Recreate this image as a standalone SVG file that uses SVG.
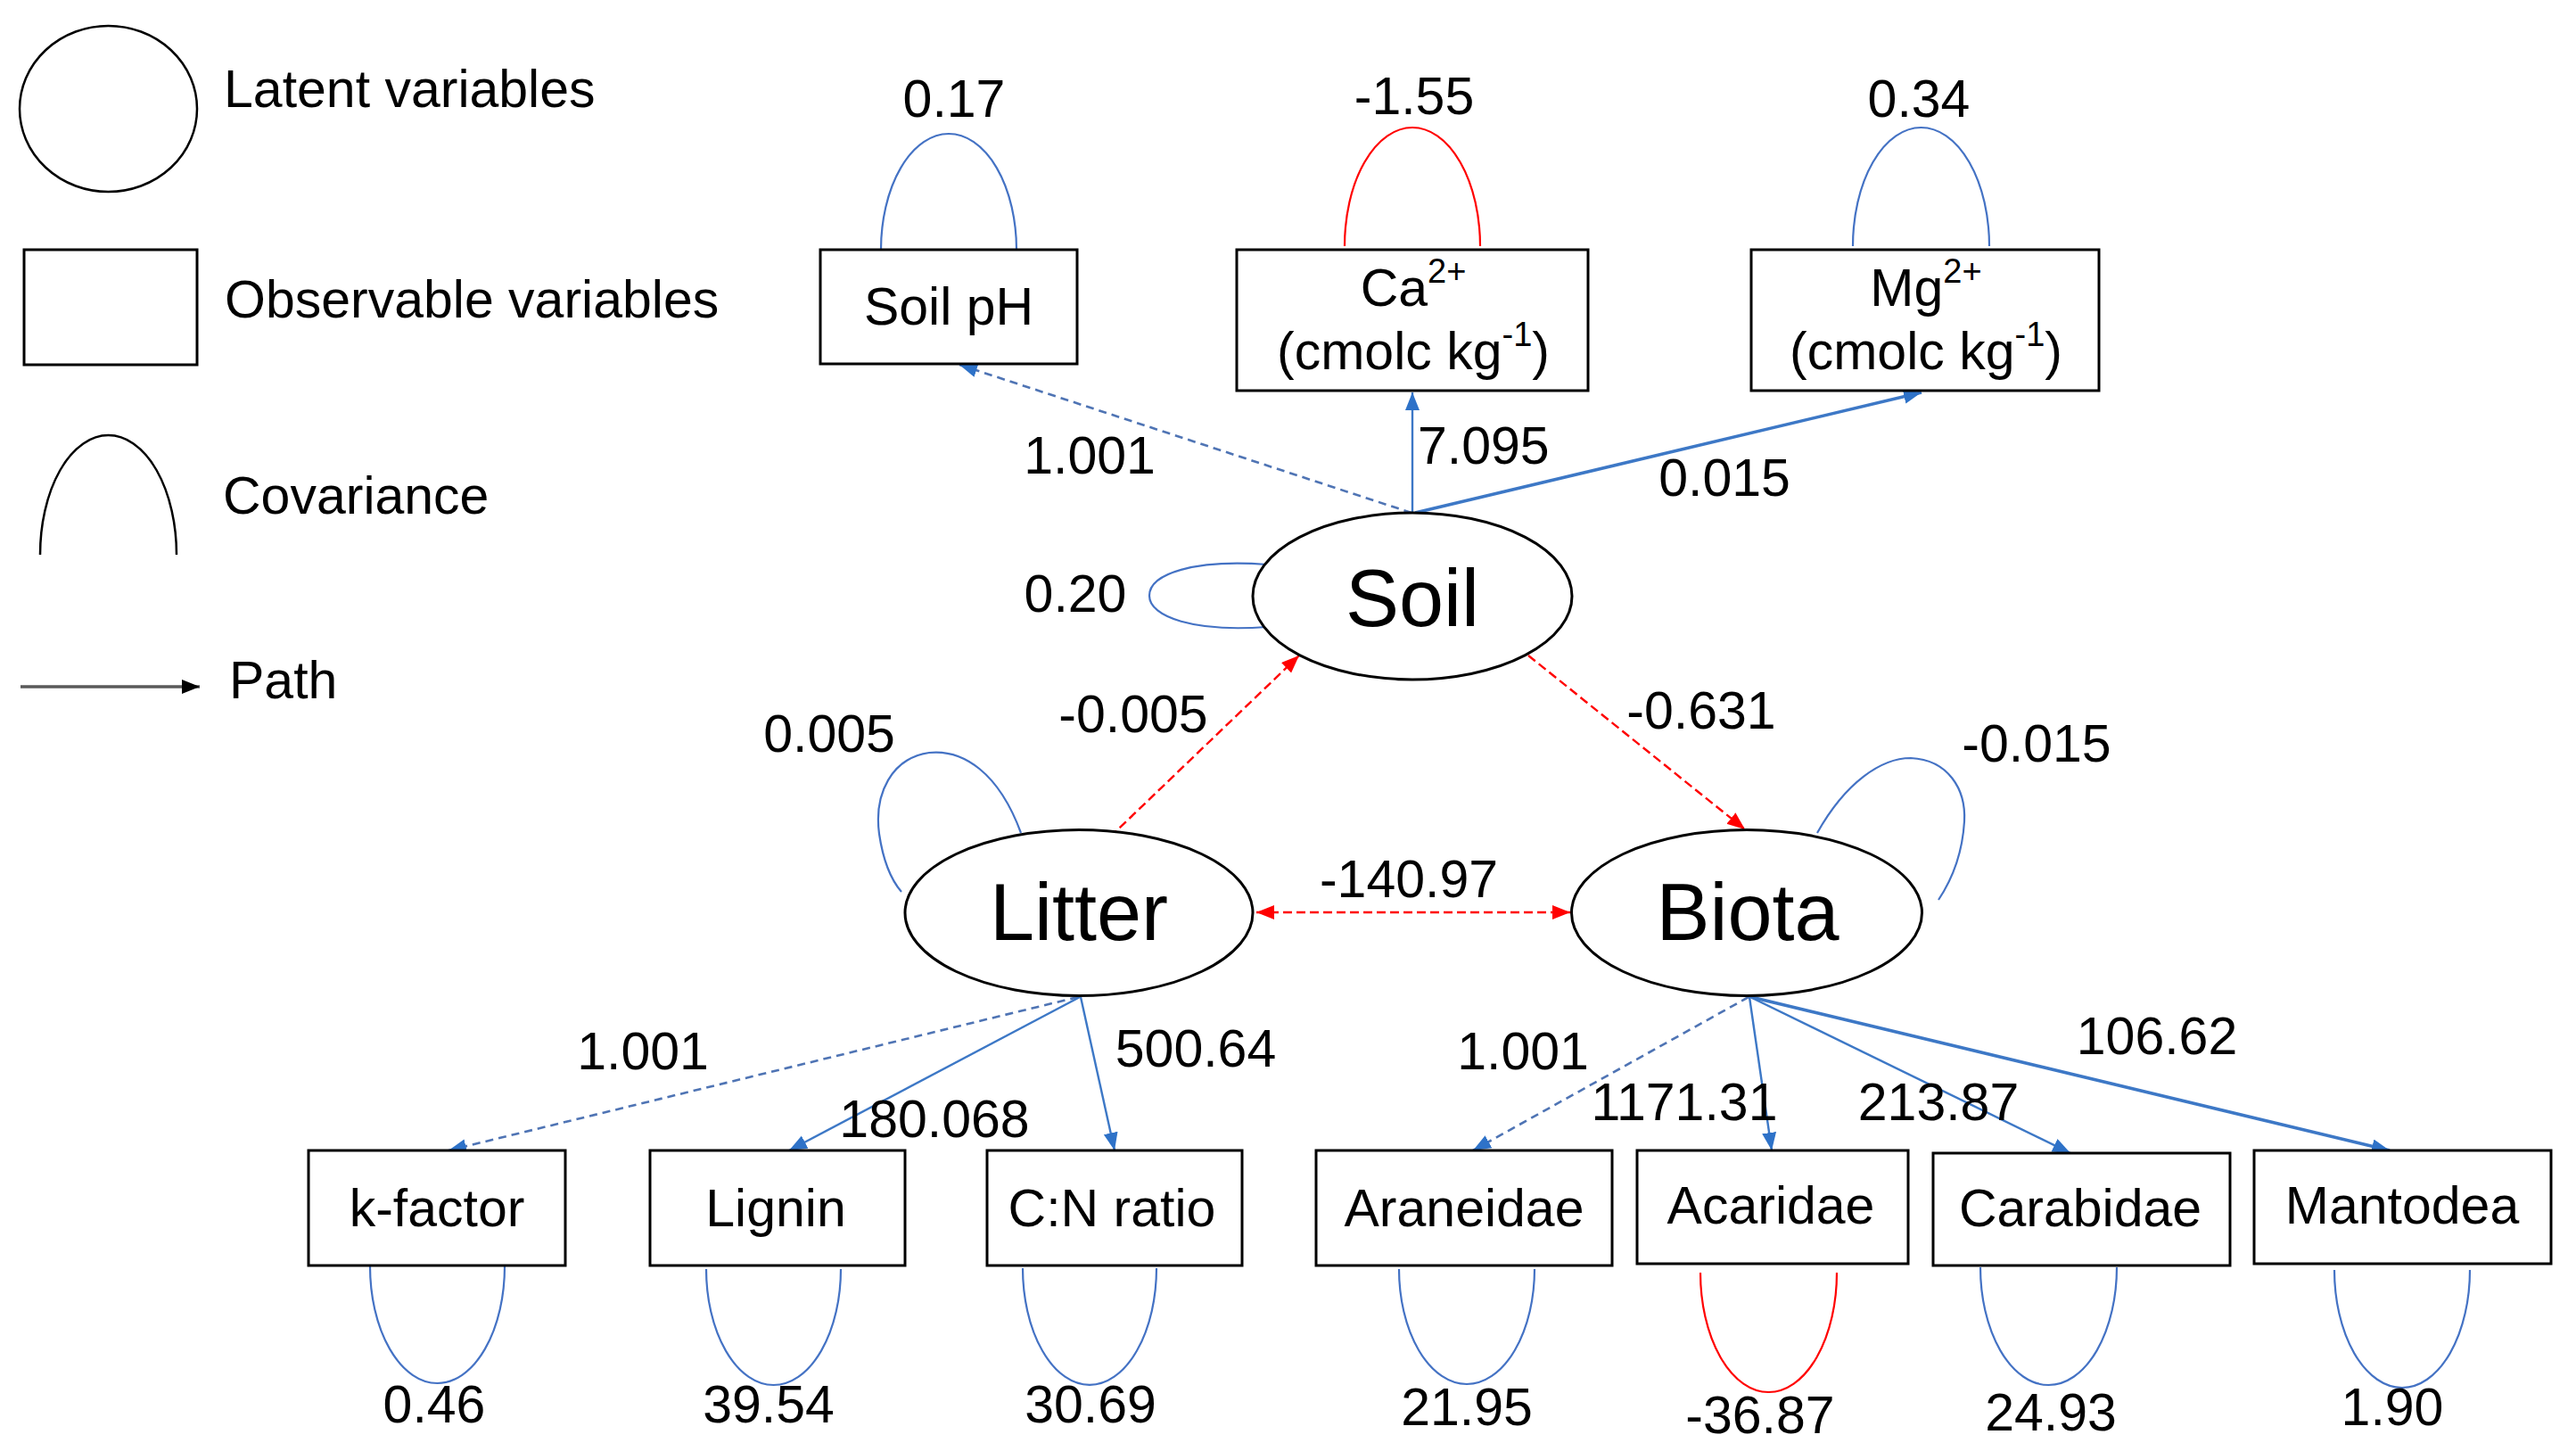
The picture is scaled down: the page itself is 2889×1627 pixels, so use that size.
<svg xmlns="http://www.w3.org/2000/svg" width="2889" height="1627" viewBox="0 0 2889 1627">
<style>
text{font-family:"Liberation Sans",Arial,sans-serif;font-size:59px;fill:#000}
.big{font-size:90px}
.m{text-anchor:middle}
.box{fill:#fff;stroke:#000;stroke-width:3}
.lat{fill:#fff;stroke:#000;stroke-width:3}
.cov{fill:none;stroke:#4472c4;stroke-width:2.2}
.covr{fill:none;stroke:#ff0000;stroke-width:2.2}
.p{fill:none;stroke:#3d78c6;stroke-width:2.4}
.pd{fill:none;stroke:#4f74b4;stroke-width:2.6;stroke-dasharray:9 6}
.pt{stroke-width:3.6}
.rd{fill:none;stroke:#ff0000;stroke-width:2.4;stroke-dasharray:10 5}
</style>
<defs>
<marker id="ab" markerUnits="userSpaceOnUse" markerWidth="22" markerHeight="18" refX="20" refY="8" orient="auto"><path d="M0,0 L20,8 L0,16 z" fill="#2e72c8"/></marker>
<marker id="ar" markerUnits="userSpaceOnUse" markerWidth="22" markerHeight="18" refX="20" refY="8" orient="auto"><path d="M0,0 L20,8 L0,16 z" fill="#ff0000"/></marker>
<marker id="ars" markerUnits="userSpaceOnUse" markerWidth="22" markerHeight="18" refX="0" refY="8" orient="auto"><path d="M20,0 L0,8 L20,16 z" fill="#ff0000"/></marker>
<marker id="ak" markerUnits="userSpaceOnUse" markerWidth="22" markerHeight="18" refX="20" refY="8" orient="auto"><path d="M0,0 L20,8 L0,16 z" fill="#000"/></marker>
</defs>
<rect width="2889" height="1627" fill="#fff"/>

<g id="legend">
<ellipse cx="121.5" cy="122" rx="99.5" ry="93" fill="none" stroke="#000" stroke-width="2.5"/>
<text x="251" y="120">Latent variables</text>
<rect x="27" y="280" width="194" height="129" fill="none" stroke="#000" stroke-width="3"/>
<text x="252" y="356">Observable variables</text>
<path d="M45,622 A76.5,134 0 0 1 198,622" fill="none" stroke="#000" stroke-width="2.5"/>
<text x="250" y="576">Covariance</text>
<line x1="23" y1="770" x2="224" y2="770" stroke="#5a5a5a" stroke-width="3.5" marker-end="url(#ak)"/>
<text x="257" y="783">Path</text>
</g>

<g id="connectors">
<line class="pd" x1="1583" y1="575" x2="1076" y2="409" marker-end="url(#ab)"/>
<line class="p" x1="1584" y1="575" x2="1584" y2="440" marker-end="url(#ab)"/>
<line class="p pt" x1="1587" y1="575" x2="2155" y2="440" marker-end="url(#ab)"/>
<line class="rd" x1="1234" y1="949" x2="1457" y2="735" marker-end="url(#ar)"/>
<line class="rd" x1="1714" y1="735" x2="1957" y2="930" marker-end="url(#ar)"/>
<line class="rd" x1="1409" y1="1023" x2="1761" y2="1023" marker-start="url(#ars)" marker-end="url(#ar)"/>
<line class="pd" x1="1209" y1="1118" x2="503" y2="1290" marker-end="url(#ab)"/>
<line class="p" x1="1211" y1="1118" x2="885" y2="1290" marker-end="url(#ab)"/>
<line class="p" x1="1212" y1="1118" x2="1250" y2="1290" marker-end="url(#ab)"/>
<line class="pd" x1="1961" y1="1118" x2="1652" y2="1290" marker-end="url(#ab)"/>
<line class="p" x1="1962" y1="1118" x2="1987" y2="1290" marker-end="url(#ab)"/>
<line class="p" x1="1963" y1="1118" x2="2322" y2="1293" marker-end="url(#ab)"/>
<line class="p pt" x1="1964" y1="1118" x2="2680" y2="1290" marker-end="url(#ab)"/>
<path class="cov" d="M988,280 A76,130 0 0 1 1140,280"/>
<path class="covr" d="M1508,276 A76,133 0 0 1 1660,276"/>
<path class="cov" d="M2078,276 A76.5,133 0 0 1 2231,276"/>
<path class="cov" d="M1421,633 C1340,627 1289,643 1289,668 C1289,692 1340,709 1421,703"/>
<path class="cov" d="M1145,934 C1120,866 1080,840 1042,844 C1000,850 980,890 986,935 C990,962 998,985 1011,1000"/>
<path class="cov" d="M2038,934 C2070,877 2110,850 2143,850 C2185,852 2205,885 2203,921 C2201,955 2190,985 2174,1009"/>
<path class="cov" d="M415,1420 A75.5,131 0 0 0 566,1420"/>
<path class="cov" d="M792,1423 A75.5,130 0 0 0 943,1423"/>
<path class="cov" d="M1147,1422 A75,131 0 0 0 1297,1422"/>
<path class="cov" d="M1569,1423 A76,129 0 0 0 1721,1423"/>
<path class="covr" d="M1907,1427 A76.5,134 0 0 0 2060,1427"/>
<path class="cov" d="M2221,1421 A76.5,132 0 0 0 2374,1421"/>
<path class="cov" d="M2618,1424 A76,132 0 0 0 2770,1424"/>
</g>

<g id="labels">
<text class="m" x="1070" y="131">0.17</text>
<text class="m" x="1586" y="128">-1.55</text>
<text class="m" x="2152" y="131">0.34</text>
<text class="m" x="1222" y="531">1.001</text>
<text x="1590" y="520">7.095</text>
<text class="m" x="1934" y="556">0.015</text>
<text class="m" x="1206" y="686">0.20</text>
<text class="m" x="1271" y="821">-0.005</text>
<text class="m" x="1908" y="817">-0.631</text>
<text class="m" x="930" y="843">0.005</text>
<text class="m" x="2284" y="854">-0.015</text>
<text class="m" x="1580" y="1006">-140.97</text>
<text class="m" x="721" y="1199">1.001</text>
<text class="m" x="1048" y="1275">180.068</text>
<text class="m" x="1341" y="1196">500.64</text>
<text class="m" x="1708" y="1199">1.001</text>
<text class="m" x="1889" y="1256">1171.31</text>
<text class="m" x="2174" y="1256">213.87</text>
<text class="m" x="2419" y="1182">106.62</text>
<text class="m" x="487" y="1595">0.46</text>
<text class="m" x="862" y="1595">39.54</text>
<text class="m" x="1223" y="1595">30.69</text>
<text class="m" x="1645" y="1598">21.95</text>
<text class="m" x="1974" y="1607">-36.87</text>
<text class="m" x="2300" y="1604">24.93</text>
<text class="m" x="2683" y="1598">1.90</text>
</g>

<g id="soil-ph"><rect class="box" x="920" y="280" width="288" height="128"/><text class="m" x="1064" y="364">Soil pH</text></g>
<g id="ca"><rect class="box" x="1387" y="280" width="394" height="158"/><text class="m" x="1585" y="343">Ca<tspan font-size="38" dy="-26">2+</tspan></text><text class="m" x="1585" y="414">(cmolc kg<tspan font-size="38" dy="-26">-1</tspan><tspan dy="26">)</tspan></text></g>
<g id="mg"><rect class="box" x="1964" y="280" width="390" height="158"/><text class="m" x="2160" y="343">Mg<tspan font-size="38" dy="-26">2+</tspan></text><text class="m" x="2160" y="414">(cmolc kg<tspan font-size="38" dy="-26">-1</tspan><tspan dy="26">)</tspan></text></g>

<g id="soil"><ellipse class="lat" cx="1584" cy="668.5" rx="179" ry="93.5"/><text class="m big" x="1584" y="702">Soil</text></g>
<g id="litter"><ellipse class="lat" cx="1210" cy="1023.5" rx="195" ry="93"/><text class="m big" x="1210" y="1054">Litter</text></g>
<g id="biota"><ellipse class="lat" cx="1959" cy="1023.5" rx="196.5" ry="93"/><text class="m big" x="1960" y="1054">Biota</text></g>

<g id="k-factor"><rect class="box" x="346" y="1290" width="288" height="129"/><text class="m" x="490" y="1375">k-factor</text></g>
<g id="lignin"><rect class="box" x="729" y="1290" width="286" height="129"/><text class="m" x="870" y="1375">Lignin</text></g>
<g id="cn-ratio"><rect class="box" x="1107" y="1290" width="286" height="129"/><text class="m" x="1247" y="1375">C:N ratio</text></g>
<g id="araneidae"><rect class="box" x="1476" y="1290" width="332" height="129"/><text class="m" x="1642" y="1375">Araneidae</text></g>
<g id="acaridae"><rect class="box" x="1836" y="1290" width="304" height="127"/><text class="m" x="1986" y="1372">Acaridae</text></g>
<g id="carabidae"><rect class="box" x="2168" y="1293" width="333" height="126"/><text class="m" x="2333" y="1375">Carabidae</text></g>
<g id="mantodea"><rect class="box" x="2528" y="1290" width="333" height="127"/><text class="m" x="2694" y="1372">Mantodea</text></g>
</svg>
